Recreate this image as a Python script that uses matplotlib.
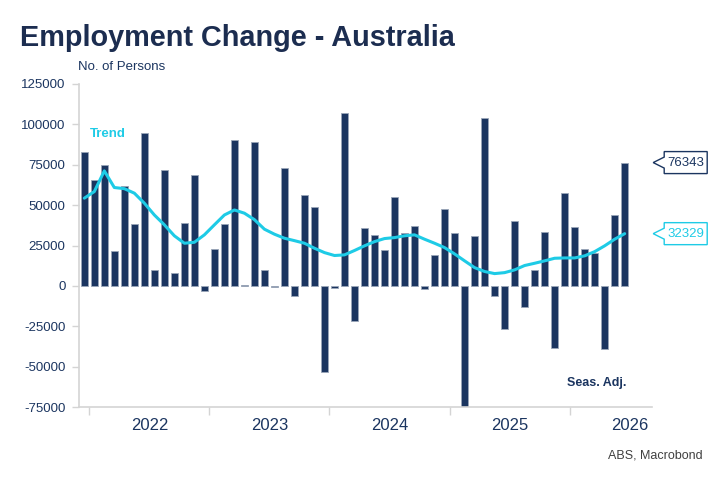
import matplotlib
matplotlib.use("Agg")
import matplotlib.pyplot as plt
from matplotlib.patches import Polygon
import numpy as np

plt.rcParams['font.family'] = ['Liberation Sans', 'DejaVu Sans']

# monthly employment change, Dec 2021 onward (seasonally adjusted)
emp_change = [83000, 65400, 74700, 21700, 61900, 38200, 94500, 10100, 72000, 8000,
              38800, 68500, -2900, 22700, 38600, 90200, 500, 89300, 9700, -500,
              72800, -6000, 56100, 48900, -53200, -1600, 107100, -21500, 36100, 31200,
              22100, 54900, 32600, 36900, -2100, 19200, 47500, 33000, -80000, 30900,
              104200, -6200, -26600, 40400, -13200, 9900, 33600, -38400, 57800, 36500,
              22700, 20200, -38800, 43900, 76343]
trend = [54300, 58400, 71200, 60900, 60200, 57400, 51200, 43900, 37800, 31000,
         26400, 27000, 31600, 37800, 43900, 47000, 45000, 41000, 35100, 32000,
         29500, 28000, 26400, 23300, 20600, 18800, 19200, 21900, 24800, 27400,
         29300, 29900, 31000, 31600, 28900, 26400, 23700, 19800, 15500, 11300,
         8900, 7600, 8200, 9900, 12600, 14000, 15500, 17100, 17300, 17300,
         18600, 21200, 24800, 28900, 32329]
years = ['2022', '2023', '2024', '2025', '2026']
yticks = [125000, 100000, 75000, 50000, 25000, 0, -25000, -50000, -75000]

navy = '#1b3560'
cyan = '#1ecbe6'
grey = '#d4d4d4'

x = np.arange(len(emp_change))

fig = plt.figure(figsize=(7.26, 4.84), dpi=100)
ax = fig.add_axes([79.3 / 726, 1 - 407 / 484, 572.4 / 726, 323 / 484])

ax.bar(x, emp_change, width=0.74, color=navy, edgecolor='#9aa6b8', linewidth=0.6, zorder=2)
ax.plot(x, trend, color=cyan, linewidth=2.2, zorder=3, solid_capstyle='round')

ax.set_xlim(-0.5, 56.7)
ax.set_ylim(-75000, 125000)

# year boundaries as ticks, year names between them
bounds = [0.5 + 12 * i for i in range(len(years))]
ax.set_xticks(bounds)
ax.set_xticklabels([])
ax.set_xticks([b + 6 for b in bounds], minor=True)
ax.set_xticklabels(years, minor=True, fontsize=12, color=navy)
ax.tick_params(axis='x', which='major', length=6, color=grey, width=1)
ax.tick_params(axis='x', which='minor', length=0, pad=8)

ax.set_yticks(yticks)
ax.set_yticklabels([str(v) for v in yticks], fontsize=9.5, color=navy)
ax.tick_params(axis='y', length=5, color=grey, width=1, pad=5)

for s in ['top', 'right']:
    ax.spines[s].set_visible(False)
for s in ['left', 'bottom']:
    ax.spines[s].set_color(grey)
    ax.spines[s].set_linewidth(1.2)

fig.text(20 / 726, 1 - 46 / 484, 'Employment Change - Australia', fontsize=20.8,
         fontweight='bold', color='#1c2d50', va='baseline')
fig.text(78 / 726, 1 - 70 / 484, 'No. of Persons', fontsize=9.5, color=navy, va='baseline')
fig.text(703 / 726, 1 - 455 / 484, 'ABS, Macrobond', fontsize=9, color='#404040',
         ha='right', va='center')

ytr = ax.get_yaxis_transform()
ax.text(0.019, 94000, 'Trend', transform=ytr, color=cyan, fontsize=9.5,
        fontweight='bold', va='center')
ax.text(0.904, -60000, 'Seas. Adj.', transform=ytr, color=navy, fontsize=9,
        fontweight='bold', va='center', ha='center')


def end_label(value, color):
    px, py = ytr.transform((1.0, value))
    tip = px + 1.5
    left = tip + 11
    right = left + 43
    h = 11
    notch = 5.5
    verts = [(tip, py), (left, py + notch), (left, py + h), (right, py + h),
             (right, py - h), (left, py - h), (left, py - notch)]
    fig.add_artist(Polygon(verts, closed=True, transform=None, facecolor='white',
                           edgecolor=color, linewidth=1.0))
    fig.text((left + right) / 2 / 726, py / 484, str(int(round(value))), fontsize=9.5,
             color=color, ha='center', va='center')


end_label(emp_change[-1], navy)
end_label(trend[-1], cyan)

fig.savefig('out.png', dpi=100)
